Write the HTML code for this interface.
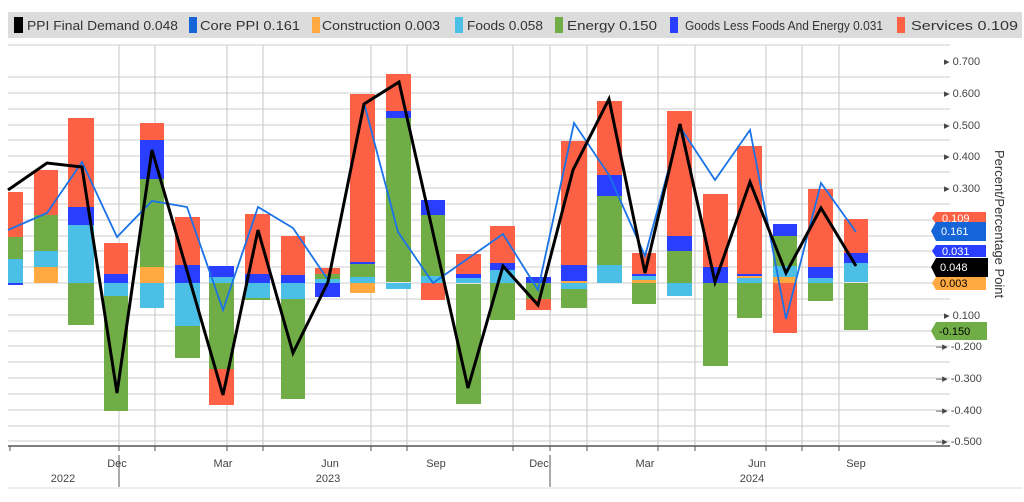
<!DOCTYPE html>
<html><head><meta charset="utf-8"><style>
body{margin:0;background:#fff;width:1024px;height:497px;overflow:hidden;font-family:"Liberation Sans",sans-serif}
</style></head><body>
<svg width="1024" height="497" xmlns="http://www.w3.org/2000/svg" font-family="Liberation Sans, sans-serif">
<rect x="8" y="12" width="1014" height="26" fill="#dcdcdc"/>
<g font-size="13" fill="#333">
<rect x="14" y="17" width="9" height="16" fill="#000"/><text x="27" y="30" textLength="151" lengthAdjust="spacingAndGlyphs">PPI Final Demand 0.048</text>
<rect x="189" y="17" width="8" height="16" fill="#1565d8"/><text x="200" y="30" textLength="100" lengthAdjust="spacingAndGlyphs">Core PPI 0.161</text>
<rect x="312" y="17" width="8" height="16" fill="#ffa940"/><text x="322" y="30" textLength="118" lengthAdjust="spacingAndGlyphs">Construction 0.003</text>
<rect x="455" y="17" width="8" height="16" fill="#4bbfe6"/><text x="467" y="30" textLength="76" lengthAdjust="spacingAndGlyphs">Foods 0.058</text>
<rect x="555" y="17" width="8" height="16" fill="#70ad47"/><text x="567" y="30" textLength="90" lengthAdjust="spacingAndGlyphs">Energy  0.150</text>
<rect x="670" y="17" width="8" height="16" fill="#2a3eff"/><text x="685" y="30" textLength="198" lengthAdjust="spacingAndGlyphs">Goods Less Foods And Energy 0.031</text>
<rect x="897" y="17" width="8" height="16" fill="#fd6145"/><text x="911" y="30" textLength="107" lengthAdjust="spacingAndGlyphs">Services 0.109</text>
</g>
<g stroke="#dedede" stroke-width="1.5">
<line x1="8" y1="45" x2="950" y2="45"/>
<line x1="8" y1="77" x2="950" y2="77"/><line x1="8" y1="93" x2="950" y2="93"/><line x1="8" y1="109" x2="950" y2="109"/><line x1="8" y1="125" x2="950" y2="125"/><line x1="8" y1="140" x2="950" y2="140"/><line x1="8" y1="156" x2="950" y2="156"/><line x1="8" y1="172" x2="950" y2="172"/><line x1="8" y1="188" x2="950" y2="188"/><line x1="8" y1="204" x2="950" y2="204"/><line x1="8" y1="220" x2="950" y2="220"/><line x1="8" y1="236" x2="950" y2="236"/><line x1="8" y1="251" x2="950" y2="251"/><line x1="8" y1="267" x2="950" y2="267"/><line x1="8" y1="283" x2="950" y2="283"/><line x1="8" y1="299" x2="950" y2="299"/><line x1="8" y1="315" x2="950" y2="315"/><line x1="8" y1="331" x2="950" y2="331"/><line x1="8" y1="346" x2="950" y2="346"/><line x1="8" y1="362" x2="950" y2="362"/><line x1="8" y1="378" x2="950" y2="378"/><line x1="8" y1="394" x2="950" y2="394"/><line x1="8" y1="410" x2="950" y2="410"/><line x1="8" y1="426" x2="950" y2="426"/><line x1="8" y1="441" x2="950" y2="441"/>
</g>
<g stroke="#cfcfcf" stroke-width="1.2">
<line x1="119" y1="45" x2="119" y2="446"/><line x1="155" y1="45" x2="155" y2="446"/><line x1="227" y1="45" x2="227" y2="446"/><line x1="263" y1="45" x2="263" y2="446"/><line x1="371" y1="45" x2="371" y2="446"/><line x1="407" y1="45" x2="407" y2="446"/><line x1="513" y1="45" x2="513" y2="446"/><line x1="550" y1="45" x2="550" y2="446"/><line x1="587" y1="45" x2="587" y2="446"/><line x1="658" y1="45" x2="658" y2="446"/><line x1="695" y1="45" x2="695" y2="446"/><line x1="766" y1="45" x2="766" y2="446"/><line x1="802" y1="45" x2="802" y2="446"/><line x1="839" y1="45" x2="839" y2="446"/>
</g>
<g>
<rect x="8" y="192" width="15" height="45" fill="#fd6145"/><rect x="8" y="237" width="15" height="22" fill="#70ad47"/><rect x="8" y="259" width="15" height="24" fill="#4bbfe6"/><rect x="8" y="283" width="15" height="2" fill="#2a3eff"/>
<rect x="34" y="170" width="24" height="45" fill="#fd6145"/><rect x="34" y="215" width="24" height="36" fill="#70ad47"/><rect x="34" y="251" width="24" height="16" fill="#4bbfe6"/><rect x="34" y="267" width="24" height="16" fill="#ffa940"/>
<rect x="68" y="118" width="26" height="89" fill="#fd6145"/><rect x="68" y="207" width="26" height="18" fill="#2a3eff"/><rect x="68" y="225" width="26" height="58" fill="#4bbfe6"/><rect x="68" y="283" width="26" height="42" fill="#70ad47"/>
<rect x="104" y="243" width="24" height="31" fill="#fd6145"/><rect x="104" y="274" width="24" height="9" fill="#2a3eff"/><rect x="104" y="283" width="24" height="13" fill="#4bbfe6"/><rect x="104" y="296" width="24" height="115" fill="#70ad47"/>
<rect x="140" y="123" width="24" height="17" fill="#fd6145"/><rect x="140" y="140" width="24" height="39" fill="#2a3eff"/><rect x="140" y="179" width="24" height="88" fill="#70ad47"/><rect x="140" y="267" width="24" height="16" fill="#ffa940"/><rect x="140" y="283" width="24" height="25" fill="#4bbfe6"/>
<rect x="175" y="217" width="25" height="48" fill="#fd6145"/><rect x="175" y="265" width="25" height="18" fill="#2a3eff"/><rect x="175" y="283" width="25" height="43" fill="#4bbfe6"/><rect x="175" y="326" width="25" height="32" fill="#70ad47"/>
<rect x="209" y="266" width="25" height="11" fill="#2a3eff"/><rect x="209" y="277" width="25" height="6" fill="#4bbfe6"/><rect x="209" y="283" width="25" height="86" fill="#70ad47"/><rect x="209" y="369" width="25" height="36" fill="#fd6145"/>
<rect x="245" y="214" width="25" height="60" fill="#fd6145"/><rect x="245" y="274" width="25" height="9" fill="#2a3eff"/><rect x="245" y="283" width="25" height="15" fill="#4bbfe6"/><rect x="245" y="298" width="25" height="2" fill="#70ad47"/>
<rect x="281" y="236" width="24" height="39" fill="#fd6145"/><rect x="281" y="275" width="24" height="8" fill="#2a3eff"/><rect x="281" y="283" width="24" height="16" fill="#4bbfe6"/><rect x="281" y="299" width="24" height="100" fill="#70ad47"/>
<rect x="315" y="268" width="25" height="6" fill="#fd6145"/><rect x="315" y="274" width="25" height="5" fill="#70ad47"/><rect x="315" y="279" width="25" height="4" fill="#4bbfe6"/><rect x="315" y="283" width="25" height="14" fill="#2a3eff"/>
<rect x="350" y="94" width="25" height="168" fill="#fd6145"/><rect x="350" y="262" width="25" height="2" fill="#2a3eff"/><rect x="350" y="264" width="25" height="13" fill="#70ad47"/><rect x="350" y="277" width="25" height="6" fill="#4bbfe6"/><rect x="350" y="283" width="25" height="10" fill="#ffa940"/>
<rect x="386" y="74" width="25" height="37" fill="#fd6145"/><rect x="386" y="111" width="25" height="7" fill="#2a3eff"/><rect x="386" y="118" width="25" height="164" fill="#70ad47"/><rect x="386" y="283" width="25" height="6" fill="#4bbfe6"/>
<rect x="421" y="200" width="24" height="15" fill="#2a3eff"/><rect x="421" y="215" width="24" height="61" fill="#70ad47"/><rect x="421" y="276" width="24" height="7" fill="#4bbfe6"/><rect x="421" y="283" width="24" height="17" fill="#fd6145"/>
<rect x="456" y="254" width="25" height="20" fill="#fd6145"/><rect x="456" y="274" width="25" height="4" fill="#2a3eff"/><rect x="456" y="278" width="25" height="5" fill="#4bbfe6"/><rect x="456" y="284" width="25" height="120" fill="#70ad47"/>
<rect x="490" y="226" width="25" height="37" fill="#fd6145"/><rect x="490" y="263" width="25" height="7" fill="#2a3eff"/><rect x="490" y="270" width="25" height="13" fill="#4bbfe6"/><rect x="490" y="283" width="25" height="37" fill="#70ad47"/>
<rect x="526" y="277" width="25" height="6" fill="#2a3eff"/><rect x="526" y="283" width="25" height="16" fill="#70ad47"/><rect x="526" y="299" width="25" height="11" fill="#fd6145"/>
<rect x="561" y="141" width="26" height="124" fill="#fd6145"/><rect x="561" y="265" width="26" height="16" fill="#2a3eff"/><rect x="561" y="281" width="26" height="2" fill="#ffa940"/><rect x="561" y="283" width="26" height="6" fill="#4bbfe6"/><rect x="561" y="289" width="26" height="19" fill="#70ad47"/>
<rect x="597" y="101" width="25" height="74" fill="#fd6145"/><rect x="597" y="175" width="25" height="21" fill="#2a3eff"/><rect x="597" y="196" width="25" height="69" fill="#70ad47"/><rect x="597" y="265" width="25" height="18" fill="#4bbfe6"/>
<rect x="632" y="253" width="24" height="21" fill="#fd6145"/><rect x="632" y="274" width="24" height="2" fill="#2a3eff"/><rect x="632" y="276" width="24" height="4" fill="#4bbfe6"/><rect x="632" y="280" width="24" height="3" fill="#ffa940"/><rect x="632" y="283" width="24" height="21" fill="#70ad47"/>
<rect x="667" y="111" width="25" height="125" fill="#fd6145"/><rect x="667" y="236" width="25" height="15" fill="#2a3eff"/><rect x="667" y="251" width="25" height="32" fill="#70ad47"/><rect x="667" y="283" width="25" height="13" fill="#4bbfe6"/>
<rect x="703" y="194" width="25" height="73" fill="#fd6145"/><rect x="703" y="267" width="25" height="16" fill="#2a3eff"/><rect x="703" y="283" width="25" height="83" fill="#70ad47"/>
<rect x="737" y="146" width="25" height="128" fill="#fd6145"/><rect x="737" y="274" width="25" height="2" fill="#2a3eff"/><rect x="737" y="276" width="25" height="2" fill="#ffa940"/><rect x="737" y="278" width="25" height="5" fill="#4bbfe6"/><rect x="737" y="283" width="25" height="35" fill="#70ad47"/>
<rect x="773" y="224" width="24" height="12" fill="#2a3eff"/><rect x="773" y="236" width="24" height="30" fill="#70ad47"/><rect x="773" y="266" width="24" height="11" fill="#4bbfe6"/><rect x="773" y="277" width="24" height="6" fill="#ffa940"/><rect x="773" y="283" width="24" height="50" fill="#fd6145"/>
<rect x="808" y="189" width="25" height="78" fill="#fd6145"/><rect x="808" y="267" width="25" height="11" fill="#2a3eff"/><rect x="808" y="278" width="25" height="5" fill="#4bbfe6"/><rect x="808" y="283" width="25" height="18" fill="#70ad47"/>
<rect x="844" y="219" width="24" height="34" fill="#fd6145"/><rect x="844" y="253" width="24" height="10" fill="#2a3eff"/><rect x="844" y="263" width="24" height="19" fill="#4bbfe6"/><rect x="844" y="283" width="24" height="47" fill="#70ad47"/>
</g>
<polyline fill="none" stroke="#1a73e8" stroke-width="1.8" points="8,230 47,213 82,162 117,237 152,201 187,207 223,310 258,207 293,228 328,280 364,103 398,232 433,283 503,234 538,290 574,123 609,175 645,256 680,127 715,180 750,130 786,319 821,183 856,232"/>
<polyline fill="none" stroke="#000" stroke-width="3" points="8,190 47,163 82,167 117,393 152,150 223,395 258,230 293,353 328,282 364,104 399,82 468,388 503,266 538,305 573,170 609,99 645,273 680,124 715,282 750,182 786,273 821,208 856,266"/>
<line x1="8" y1="446" x2="950" y2="446" stroke="#555" stroke-width="1.5"/>
<g stroke="#555" stroke-width="1"><line x1="10" y1="446" x2="10" y2="451"/><line x1="119" y1="446" x2="119" y2="451"/><line x1="155" y1="446" x2="155" y2="451"/><line x1="227" y1="446" x2="227" y2="451"/><line x1="263" y1="446" x2="263" y2="451"/><line x1="371" y1="446" x2="371" y2="451"/><line x1="407" y1="446" x2="407" y2="451"/><line x1="513" y1="446" x2="513" y2="451"/><line x1="550" y1="446" x2="550" y2="451"/><line x1="587" y1="446" x2="587" y2="451"/><line x1="658" y1="446" x2="658" y2="451"/><line x1="695" y1="446" x2="695" y2="451"/><line x1="766" y1="446" x2="766" y2="451"/><line x1="802" y1="446" x2="802" y2="451"/><line x1="839" y1="446" x2="839" y2="451"/>
<line x1="119" y1="455" x2="119" y2="487"/><line x1="550" y1="455" x2="550" y2="487"/></g>
<line x1="8" y1="488" x2="1022" y2="488" stroke="#eee" stroke-width="2"/>
<g font-size="11" fill="#444" text-anchor="middle">
<text x="117" y="467">Dec</text><text x="223" y="467">Mar</text><text x="330" y="467">Jun</text><text x="436" y="467">Sep</text><text x="539" y="467">Dec</text><text x="645" y="467">Mar</text><text x="757" y="467">Jun</text><text x="856" y="467">Sep</text>
<text x="63" y="482">2022</text><text x="328" y="482">2023</text><text x="752" y="482">2024</text>
</g>
<g font-size="11" fill="#444">
<text x="944" y="65">▸ 0.700</text><text x="944" y="97">▸ 0.600</text><text x="944" y="129">▸ 0.500</text><text x="944" y="160">▸ 0.400</text><text x="944" y="192">▸ 0.300</text>
<text x="944" y="319">▸ 0.100</text><text x="936" y="350">–▸ -0.200</text><text x="936" y="382">–▸ -0.300</text><text x="936" y="414">–▸ -0.400</text><text x="936" y="445">–▸ -0.500</text>
</g>
<g font-size="11">
<path d="M936,212 H986 V224 H936 L932,218Z" fill="#fd6145"/><text x="942" y="222" fill="#fff">0.109</text>
<path d="M936,222 H986 V241 H936 L931,231Z" fill="#1565d8"/><text x="941" y="235" fill="#fff">0.161</text>
<path d="M936,245 H986 V257 H936 L932,251Z" fill="#2a3eff"/><text x="942" y="255" fill="#fff">0.031</text>
<path d="M936,258 H988 V277 H936 L931,267Z" fill="#000"/><text x="940" y="271" fill="#fff">0.048</text>
<path d="M936,277 H986 V290 H936 L932,283Z" fill="#ffa940"/><text x="940" y="287" fill="#000">0.003</text>
<path d="M936,322 H987 V340 H936 L931,331Z" fill="#70ad47"/><text x="939" y="335" fill="#000">-0.150</text>
</g>
<text transform="translate(995,150) rotate(90)" font-size="13" fill="#333">Percent/Percentage Point</text>
</svg>
</body></html>
